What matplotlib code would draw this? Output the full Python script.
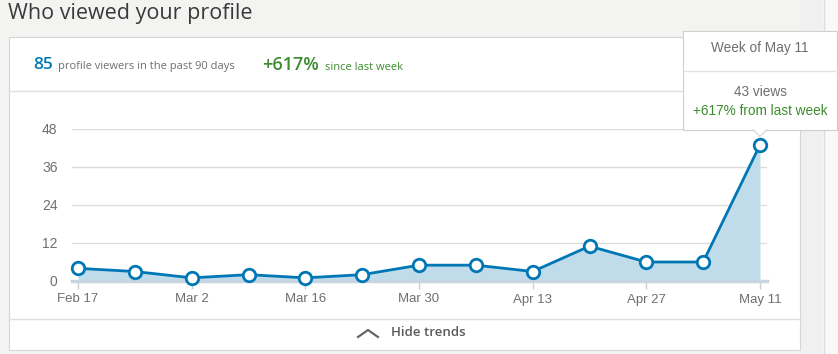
import numpy as np
import matplotlib
matplotlib.use("Agg")
import matplotlib.pyplot as plt
import matplotlib.dates as mdates
from matplotlib.patches import Rectangle, Polygon
from matplotlib.lines import Line2D

W, H = 838, 354

# weekly profile views
weeks = np.array(["2020-02-17", "2020-02-24", "2020-03-02", "2020-03-09", "2020-03-16",
                  "2020-03-23", "2020-03-30", "2020-04-06", "2020-04-13", "2020-04-20",
                  "2020-04-27", "2020-05-04", "2020-05-11"], dtype="datetime64[D]")
views = [4, 3, 1, 2, 1, 2, 5, 5, 3, 11, 6, 6, 43]
y_ticks = [0, 12, 24, 36, 48]
x_ticks = weeks[::2]
x_labels = ["Feb 17", "Mar 2", "Mar 16", "Mar 30", "Apr 13", "Apr 27", "May 11"]

BLUE = "#0077b5"
FILL = "#c0dceb"
GREEN = "#3d8b2f"
GRAY = "#6f6f6f"
UI = ["Open Sans", "DejaVu Sans"]
ARIAL = ["Liberation Sans", "DejaVu Sans"]


def fx(x):
    return x / W


def fy(y):
    return 1 - y / H


fig = plt.figure(figsize=(W / 100, H / 100), dpi=100)
fig.patch.set_facecolor("#f3f3f2")


def rect(x0, y0, x1, y1, z=1, **kw):
    fig.patches.append(Rectangle((fx(x0), fy(y1)), fx(x1 - x0), (y1 - y0) / H,
                                 transform=fig.transFigure, zorder=z, **kw))


def hline(x0, x1, y, color="#e0e0e0", lw=1, z=2):
    fig.lines.append(Line2D([fx(x0), fx(x1)], [fy(y), fy(y)], transform=fig.transFigure,
                            color=color, lw=lw, zorder=z))


# right side strip
rect(800, 0, 823, H, facecolor="#f0f0f0", edgecolor="none")
rect(823, 0, W, H, facecolor="#f9f9f9", edgecolor="none")
fig.lines.append(Line2D([fx(823.5)] * 2, [0, 1], transform=fig.transFigure, color="#dcdcdc", lw=1))

# card
rect(10, 38, 800, 351, facecolor="#c9c9c9", edgecolor="none")
rect(9, 37, 800, 350, facecolor="white", edgecolor="#d6d6d6", lw=0.8)
hline(9, 800, 90.5)
hline(9, 800, 318.5)

fig.text(fx(8), fy(14), "Who viewed your profile", fontsize=15.5, color="#3a3a3a",
         family=UI, va="center", ha="left")

fig.text(fx(33), fy(65), "85", fontsize=12.5, color=BLUE, family=UI, weight="semibold",
         va="center", ha="left")
fig.text(fx(58), fy(67), "profile viewers in the past 90 days", fontsize=8, color=GRAY,
         family=UI, va="center", ha="left")
fig.text(fx(262), fy(65), "+617%", fontsize=13, color=GREEN, family=UI, weight="semibold",
         va="center", ha="left")
fig.text(fx(325), fy(67), "since last week", fontsize=8, color=GREEN,
         family=UI, va="center", ha="left")

# footer
fig.lines.append(Line2D([fx(358), fx(368), fx(378)], [fy(337), fy(330), fy(337)],
                        transform=fig.transFigure, color="#666666", lw=1.6))
fig.text(fx(391), fy(333), "Hide trends", fontsize=9.5, color="#5a5a5a", family=UI,
         weight="semibold", va="center", ha="left")

# chart axes
ax = fig.add_axes([fx(72), fy(281), fx(767 - 72), (281 - 129) / H])
ax.set_zorder(5)
ax.set_facecolor("none")
d0 = mdates.date2num(weeks[0])
d1 = mdates.date2num(weeks[-1])
ppd = (760 - 78) / (d1 - d0)
ax.set_xlim(d0 - 6 / ppd, d1 + 7 / ppd)
ax.set_ylim(0, 48)

ax.fill_between(weeks, views, 0, color=FILL, lw=0, zorder=1)
ax.plot(weeks, views, color=BLUE, lw=2, marker="o", ms=9, mfc="white", mec=BLUE, mew=2,
        zorder=3, clip_on=False)

for v in y_ticks[1:]:
    ax.axhline(v, color="#dcdcdc", lw=1, zorder=0)
ax.axhline(0, color="#c8d4e2", lw=2.5, zorder=2, clip_on=False)

for s in ax.spines.values():
    s.set_visible(False)
ax.set_yticks(y_ticks)
ax.set_yticklabels([str(v) for v in y_ticks], family=ARIAL, fontsize=10, color=GRAY)
ax.tick_params(axis="y", length=0, pad=10.5)
ax.set_xticks(x_ticks)
ax.set_xticklabels(x_labels, family=ARIAL, fontsize=9.5, color=GRAY)
ax.tick_params(axis="x", length=6, color="#d0d0d0", width=1, pad=3)

# tooltip, above the chart
rect(684, 32, 838, 131, z=10, facecolor="#d0d0d0", edgecolor="none")
rect(683, 31, 837, 130, z=11, facecolor="white", edgecolor="#cfcfcf", lw=0.8)
hline(683, 837, 70.5, color="#e3e3e3", z=12)
fig.patches.append(Polygon([(fx(753), fy(129.6)), (fx(760), fy(136.5)), (fx(767), fy(129.6))],
                           closed=False, transform=fig.transFigure, facecolor="white",
                           edgecolor="#cfcfcf", lw=0.8, zorder=12))
fig.text(fx(760), fy(48), "Week of May 11", fontsize=9.8, color=GRAY, family=ARIAL,
         ha="center", va="center", zorder=13)
fig.text(fx(760), fy(92), "43 views", fontsize=9.8, color=GRAY, family=ARIAL,
         ha="center", va="center", zorder=13)
fig.text(fx(760), fy(111), "+617% from last week", fontsize=9.8, color=GREEN, family=ARIAL,
         ha="center", va="center", zorder=13)

fig.savefig("out.png", dpi=100, facecolor=fig.get_facecolor())
